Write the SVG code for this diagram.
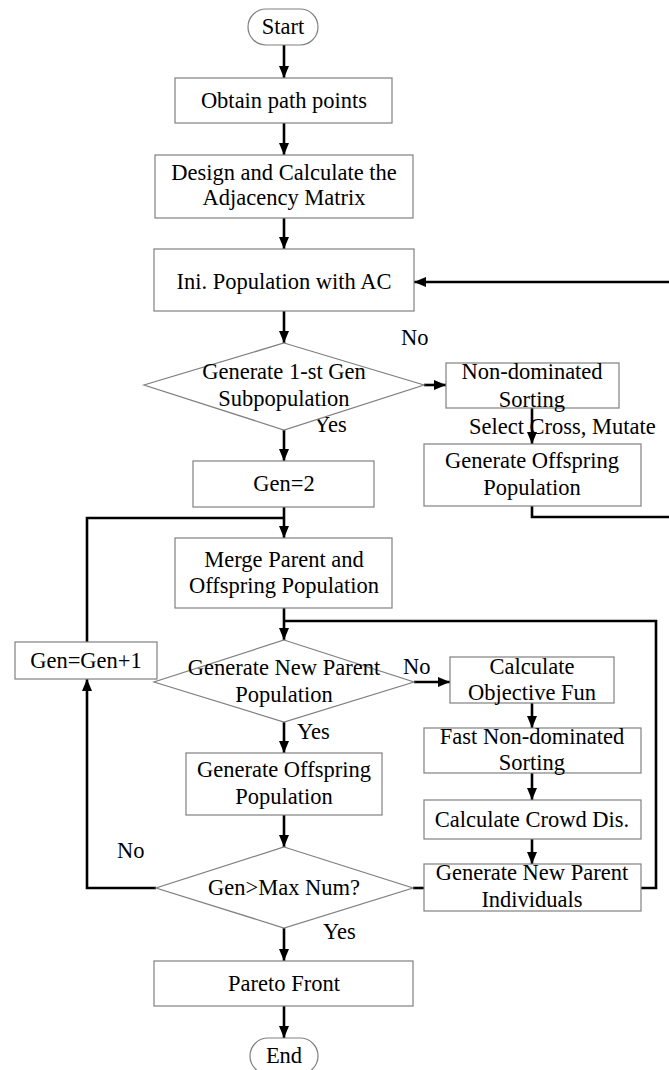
<svg xmlns="http://www.w3.org/2000/svg" width="669" height="1070" viewBox="0 0 669 1070">
  <defs>
    <marker id="arrow" markerUnits="userSpaceOnUse" markerWidth="12" markerHeight="10" refX="12" refY="5" orient="auto">
      <path d="M0,0 L12,5 L0,10 Z" fill="#000"/>
    </marker>
    <style>
      .box { fill: #fff; stroke: #808080; stroke-width: 1.2; }
      .wire { fill: none; stroke: #000; stroke-width: 2.6; }
      .arr { marker-end: url(#arrow); }
      text { font-family: "Liberation Serif", "Times New Roman", serif; font-size: 22.5px; fill: #000; text-anchor: middle; }
      .lbl { text-anchor: start; }
    </style>
  </defs>
  <rect width="669" height="1070" fill="#fff"/>

  <!-- connectors -->
  <g id="connectors">
    <path class="wire arr" d="M284,45 V78"/>
    <path class="wire arr" d="M284,123 V155"/>
    <path class="wire arr" d="M284,218 V249"/>
    <path class="wire arr" d="M284,311 V343"/>
    <path class="wire arr" d="M424,385 H446"/>
    <path class="wire arr" d="M532,408 V444"/>
    <path class="wire arr" d="M532,506 V517 H672 V282 H414"/>
    <path class="wire arr" d="M284,430 V461"/>
    <path class="wire arr" d="M284,507 V538"/>
    <path class="wire" d="M87,642 V518 H284"/>
    <path class="wire arr" d="M284,608 V640"/>
    <path class="wire" d="M641,888 H656 V621 H284"/>
    <path class="wire arr" d="M414,682 H450"/>
    <path class="wire arr" d="M532,703 V728"/>
    <path class="wire arr" d="M532,773 V800"/>
    <path class="wire arr" d="M532,839 V864"/>
    <path class="wire arr" d="M284,722 V753"/>
    <path class="wire arr" d="M284,815 V847"/>
    <path class="wire arr" d="M156,888 H87 V679"/>
    <path class="wire" d="M413,888 H424"/>
    <path class="wire arr" d="M284,928 V961"/>
    <path class="wire arr" d="M284,1006 V1038"/>
  </g>

  <!-- branch labels -->
  <g id="labels">
    <text class="lbl" x="401" y="345">No</text>
    <text class="lbl" x="314" y="432">Yes</text>
    <text class="lbl" x="469" y="434">Select Cross, Mutate</text>
    <text class="lbl" x="403" y="674">No</text>
    <text class="lbl" x="297" y="739">Yes</text>
    <text class="lbl" x="117" y="858">No</text>
    <text class="lbl" x="323" y="939">Yes</text>
  </g>

  <g id="start">
    <rect class="box" x="248" y="9" width="70" height="36" rx="18"/>
    <text x="283" y="34">Start</text>
  </g>
  <g id="obtain">
    <rect class="box" x="175" y="78" width="217" height="45"/>
    <text x="284" y="108">Obtain path points</text>
  </g>
  <g id="design">
    <rect class="box" x="155" y="155" width="258" height="63"/>
    <text x="284" y="180">Design and Calculate the</text>
    <text x="284" y="205">Adjacency Matrix</text>
  </g>
  <g id="ini">
    <rect class="box" x="154" y="249" width="260" height="62"/>
    <text x="284" y="289">Ini. Population with AC</text>
  </g>
  <g id="gen1">
    <polygon class="box" points="284,343 424,385 284,430 144,385"/>
    <text x="284" y="379">Generate 1-st Gen</text>
    <text x="284" y="406">Subpopulation</text>
  </g>
  <g id="nondom">
    <rect class="box" x="446" y="363" width="173" height="45"/>
    <text x="532" y="379">Non-dominated</text>
    <text x="532" y="407">Sorting</text>
  </g>
  <g id="offspring1">
    <rect class="box" x="424" y="444" width="217" height="62"/>
    <text x="532" y="468">Generate Offspring</text>
    <text x="532" y="495">Population</text>
  </g>
  <g id="gen2">
    <rect class="box" x="193" y="461" width="181" height="46"/>
    <text x="284" y="491">Gen=2</text>
  </g>
  <g id="merge">
    <rect class="box" x="175" y="538" width="217" height="70"/>
    <text x="284" y="567">Merge Parent and</text>
    <text x="284" y="593">Offspring Population</text>
  </g>
  <g id="geninc">
    <rect class="box" x="15" y="642" width="142" height="37"/>
    <text x="86" y="668">Gen=Gen+1</text>
  </g>
  <g id="newparent">
    <polygon class="box" points="284,640 414,682 284,722 154,682"/>
    <text x="284" y="675">Generate New Parent</text>
    <text x="284" y="702">Population</text>
  </g>
  <g id="objective">
    <rect class="box" x="450" y="657" width="164" height="46"/>
    <text x="532" y="674">Calculate</text>
    <text x="532" y="700">Objective Fun</text>
  </g>
  <g id="fastsort">
    <rect class="box" x="424" y="728" width="217" height="45"/>
    <text x="532" y="744">Fast Non-dominated</text>
    <text x="532" y="770">Sorting</text>
  </g>
  <g id="crowd">
    <rect class="box" x="424" y="800" width="217" height="39"/>
    <text x="532" y="827">Calculate Crowd Dis.</text>
  </g>
  <g id="individuals">
    <rect class="box" x="424" y="864" width="217" height="47"/>
    <text x="532" y="880">Generate New Parent</text>
    <text x="532" y="907">Individuals</text>
  </g>
  <g id="offspring2">
    <rect class="box" x="186" y="753" width="196" height="62"/>
    <text x="284" y="777">Generate Offspring</text>
    <text x="284" y="804">Population</text>
  </g>
  <g id="maxnum">
    <polygon class="box" points="284,847 413,888 284,928 156,888"/>
    <text x="284" y="895">Gen&gt;Max Num?</text>
  </g>
  <g id="pareto">
    <rect class="box" x="154" y="961" width="259" height="45"/>
    <text x="284" y="991">Pareto Front</text>
  </g>
  <g id="end">
    <rect class="box" x="250" y="1038" width="68" height="36" rx="18"/>
    <text x="284" y="1063">End</text>
  </g>
</svg>
